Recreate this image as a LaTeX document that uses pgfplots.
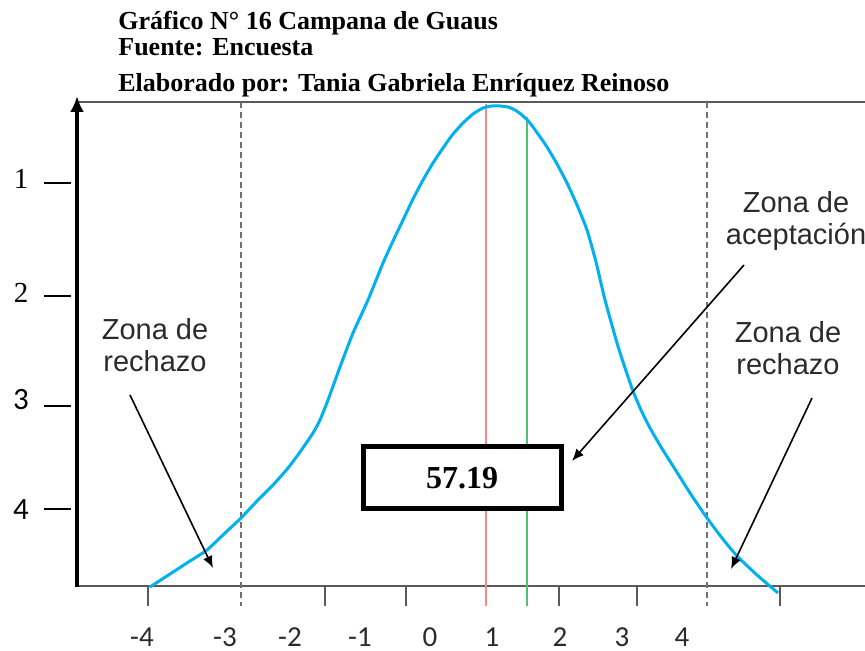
\documentclass[border=0pt]{standalone}
\usepackage{fontspec}
\setmainfont{Liberation Serif}
\newfontfamily\arial{Liberation Sans}
\newfontfamily\calib{Carlito}
\usepackage{pgfplots}
\pgfplotsset{compat=1.18}
\usetikzlibrary{arrows.meta}
\definecolor{curve}{HTML}{00B0F0}
\definecolor{redl}{HTML}{F28A8C}
\definecolor{greenl}{HTML}{4CC46E}
\definecolor{axgray}{HTML}{5A5A5A}
\definecolor{dashgray}{HTML}{707070}
\definecolor{txtgray}{HTML}{2B2B2B}
\tikzset{ylab/.style={font=\fontsize{14.5}{16}\selectfont,inner sep=0pt},
  ylabs/.style={font=\calib\fontsize{15.5}{16}\selectfont,inner sep=0pt},
  xlab/.style={font=\calib\fontsize{14.5}{16}\selectfont,txtgray,inner sep=0pt},
  ydash/.style={black,line width=0.6pt},
  xtk/.style={axgray,line width=0.9pt}}
\begin{document}
\begin{tikzpicture}
\begin{axis}[x=0.5pt,y=0.5pt,y dir=reverse,
  xmin=0,xmax=865,ymin=0,ymax=651,
  hide axis,clip=false]
\coordinate (TL) at (axis cs:0,0);
\coordinate (BR) at (axis cs:865,651);
\coordinate (t1) at (axis cs:118,30);
\coordinate (t2) at (axis cs:118,56);
\coordinate (t3) at (axis cs:118,92);
\coordinate (zl) at (axis cs:155,345);
\coordinate (zr) at (axis cs:788,348);
\coordinate (za) at (axis cs:796,221);
\coordinate (bx) at (axis cs:462,478);
% top and bottom lines
\draw[axgray,line width=1.1pt] (axis cs:78,102) -- (axis cs:865,102);
\draw[axgray,line width=1.1pt] (axis cs:78,586) -- (axis cs:865,586);
% x ticks
\draw[xtk] (axis cs:148,587) -- (axis cs:148,606);
\draw[xtk] (axis cs:325,587) -- (axis cs:325,606);
\draw[xtk] (axis cs:406,587) -- (axis cs:406,606);
\draw[xtk] (axis cs:559,587) -- (axis cs:559,606);
\draw[xtk] (axis cs:637,587) -- (axis cs:637,606);
\draw[xtk] (axis cs:780,587) -- (axis cs:780,606);
% dashed lines
\draw[dashgray,line width=1pt,dash pattern=on 3pt off 2pt] (axis cs:241,102) -- (axis cs:241,606);
\draw[dashgray,line width=1pt,dash pattern=on 3pt off 2pt] (axis cs:707,102) -- (axis cs:707,606);
% red and green lines
\draw[redl,line width=1pt] (axis cs:486,104) -- (axis cs:486,606);
\draw[greenl,line width=0.75pt] (axis cs:527,117) -- (axis cs:527,606);
% bell curve
\addplot[curve,line width=1.5pt,smooth,tension=0.35] coordinates {
 (150,587) (170,574) (190,561) (207,550) (225,533) (241,518) (257,501) (273,485)
 (288,468) (300,452) (313,433) (320,420) (328,400) (340,367) (353,333) (368,300)
 (383,263) (393,241) (403,220) (413,199) (423,180) (433,163) (443,148) (453,134)
 (463,123) (473,114) (483,108) (492,106) (500,106) (508,107) (515,110) (522,115)
 (530,123) (538,134) (547,147) (557,164) (567,183) (577,205) (587,230) (596,262)
 (605,300) (617,343) (625,368) (633,391) (641,410) (650,428) (661,447) (673,466)
 (690,493) (707,518) (722,538) (737,556) (757,575) (778,593)
};
% y axis
\draw[black,line width=1.6pt,-{Latex[length=8pt,width=7pt]}] (axis cs:77,587) -- (axis cs:77,96);
\draw[ydash] (axis cs:44,183) -- (axis cs:71,183);
\draw[ydash] (axis cs:44,296) -- (axis cs:71,296);
\draw[ydash] (axis cs:44,406) -- (axis cs:71,406);
\draw[ydash] (axis cs:44,509) -- (axis cs:71,509);
\node[ylab] at (axis cs:21,179) {1};
\node[ylab] at (axis cs:21,293) {2};
\node[ylabs] at (axis cs:21,400) {3};
\node[ylabs] at (axis cs:21,510) {4};
% x tick labels
\node[xlab] at (axis cs:142,637) {-4};
\node[xlab] at (axis cs:225,637) {-3};
\node[xlab] at (axis cs:290,637) {-2};
\node[xlab] at (axis cs:360,637) {-1};
\node[xlab] at (axis cs:430,637) {0};
\node[xlab] at (axis cs:492,637) {1};
\node[xlab] at (axis cs:560,637) {2};
\node[xlab] at (axis cs:622,637) {3};
\node[xlab] at (axis cs:682,637) {4};
% box
\draw[black,line width=2.5pt,fill=white] (axis cs:363,446) rectangle (axis cs:561,508);
% arrows
\draw[black,line width=0.8pt,-{Latex[length=6pt,width=5pt]}] (axis cs:130,395) -- (axis cs:213,568);
\draw[black,line width=0.8pt,-{Latex[length=6pt,width=5pt]}] (axis cs:812,398) -- (axis cs:731,569);
\draw[black,line width=0.8pt,-{Latex[length=6pt,width=5pt]}] (axis cs:744,265) -- (axis cs:572,461);
\end{axis}
% text outside axis
\node[anchor=base west,inner sep=0pt,font=\fontsize{13}{15}\selectfont\bfseries] at (t1) {Gráfico N° 16 Campana de Guaus};
\node[anchor=base west,inner sep=0pt,font=\fontsize{13}{15}\selectfont\bfseries] at (t2) {Fuente: Encuesta};
\node[anchor=base west,inner sep=0pt,font=\fontsize{13}{15}\selectfont\bfseries] at (t3) {Elaborado por: Tania Gabriela Enríquez Reinoso};
\node[font=\fontsize{16}{17}\selectfont\bfseries] at (bx) {57.19};
\node[font=\arial\fontsize{14.5}{17}\selectfont,txtgray,align=center] at (zl) {Zona de\\[-1pt]rechazo};
\node[font=\arial\fontsize{14.5}{17}\selectfont,txtgray,align=center] at (zr) {Zona de\\[-1pt]rechazo};
\node[font=\arial\fontsize{14.5}{17}\selectfont,txtgray,align=center] at (za) {Zona de\\[-1pt]aceptación};
\pgfresetboundingbox
\path (TL) rectangle (BR);
\end{tikzpicture}
\end{document}
